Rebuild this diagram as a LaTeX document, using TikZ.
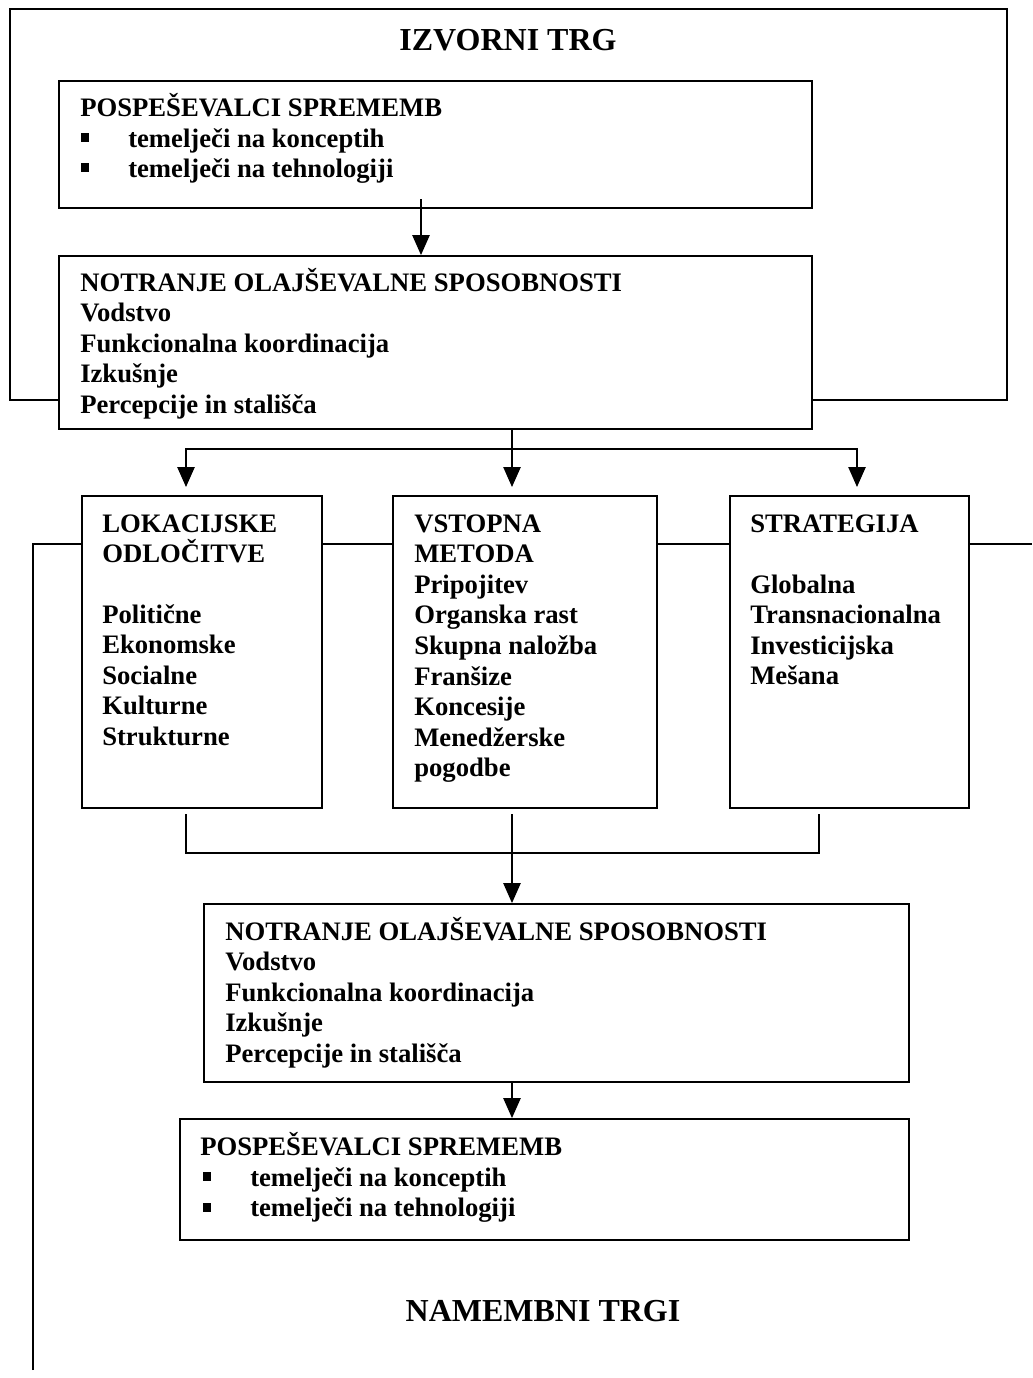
\documentclass[tikz,border=0pt]{standalone}
\usepackage{fontspec}
\setmainfont{Liberation Serif}
\usetikzlibrary{arrows.meta,fit}

% a column of text lines: name prefix, x, first baseline, lines
\newcommand\txtcol[4]{%
  \foreach \t [count=\i from 0] in {#4}
    \node[txt] (#1\i) at (#2, #3+30.6*\i) {\t};}
% a small square bullet in front of a line with the given baseline
\newcommand\sqbullet[2]{\fill (#1-4, #2-14) rectangle (#1+4, #2-5);}

\begin{document}
\begin{tikzpicture}[x=0.75pt, y=-0.75pt,
  box/.style={draw, line width=1.4pt, fill=white, inner sep=0pt},
  conn/.style={line width=1.1pt},
  arr/.style={conn, -{Triangle[width=13pt,length=15pt]}},
  txt/.style={inner sep=0pt, anchor=base west, font=\bfseries\fontsize{20}{24}\selectfont},
  head/.style={inner sep=0pt, anchor=base, font=\bfseries\fontsize{24}{28}\selectfont}]

\useasboundingbox (0,0) rectangle (1032,1378);

% outer frame of the source market
\path (10,9) coordinate (onw) (1007,400) coordinate (ose);
\node[box, fill=none, fit=(onw)(ose)] (outer) {};
\node[head] (t1) at (508,50) {IZVORNI TRG};

% boxes
\path (59,81) coordinate (b1nw) (812,208) coordinate (b1se);
\node[box, fit=(b1nw)(b1se)] (b1) {};
\path (59,256) coordinate (b2nw) (812,429) coordinate (b2se);
\node[box, fit=(b2nw)(b2se)] (b2) {};
\path (82,496) coordinate (Lnw) (322,808) coordinate (Lse);
\node[box, fit=(Lnw)(Lse)] (L) {};
\path (393,496) coordinate (Mnw) (657,808) coordinate (Mse);
\node[box, fit=(Mnw)(Mse)] (M) {};
\path (730,496) coordinate (Rnw) (969,808) coordinate (Rse);
\node[box, fit=(Rnw)(Rse)] (R) {};
\path (204,904) coordinate (b4nw) (909,1082) coordinate (b4se);
\node[box, fit=(b4nw)(b4se)] (b4) {};
\path (180,1119) coordinate (b5nw) (909,1240) coordinate (b5se);
\node[box, fit=(b5nw)(b5se)] (b5) {};

% texts of the upper boxes
\node[txt] (b1t) at (80,116) {POSPEŠEVALCI SPREMEMB};
\txtcol{b1i}{128}{147}{temelječi na konceptih,temelječi na tehnologiji}
\sqbullet{85}{147}
\sqbullet{85}{177}
\txtcol{b2t}{80}{291}{NOTRANJE OLAJŠEVALNE SPOSOBNOSTI,Vodstvo,Funkcionalna koordinacija,Izkušnje,Percepcije in stališča}

% texts of the three middle boxes
\txtcol{Lh}{102}{532}{LOKACIJSKE,ODLOČITVE}
\txtcol{Li}{102}{623}{Politične,Ekonomske,Socialne,Kulturne,Strukturne}
\txtcol{Mh}{414}{532}{VSTOPNA,METODA,Pripojitev,Organska rast,Skupna naložba,Franšize,Koncesije,Menedžerske,pogodbe}
\txtcol{Rh}{750}{532}{STRATEGIJA}
\txtcol{Ri}{750}{593}{Globalna,Transnacionalna,Investicijska,Mešana}

% texts of the lower boxes
\txtcol{b4t}{225}{940}{NOTRANJE OLAJŠEVALNE SPOSOBNOSTI,Vodstvo,Funkcionalna koordinacija,Izkušnje,Percepcije in stališča}
\node[txt] (b5t) at (200,1155) {POSPEŠEVALCI SPREMEMB};
\txtcol{b5i}{250}{1186}{temelječi na konceptih,temelječi na tehnologiji}
\sqbullet{207}{1186}
\sqbullet{207}{1216.6}

\node[head] (t2) at (543,1321) {NAMEMBNI TRGI};

% connectors
\coordinate (a1) at (421,199);
\draw[arr] (a1) -- (a1 |- b2.north);

\coordinate (sp) at (512,449);
\coordinate (tL) at (186,487);
\coordinate (tM) at (512,487);
\coordinate (tR) at (857,487);
\draw[conn] (b2.south -| sp) -- (sp);
\draw[arr] (sp) -- (tM);
\draw[arr] (sp) -| (tL);
\draw[arr] (sp) -| (tR);

\coordinate (h0) at (33,544);
\coordinate (h1) at (1032,544);
\coordinate (v1) at (33,1370);
\draw[conn] (v1) -- (h0) -- (h0 -| L.west);
\draw[conn] (L.east |- h0) -- (M.west |- h0);
\draw[conn] (M.east |- h0) -- (R.west |- h0);
\draw[conn] (R.east |- h0) -- (h1);

\coordinate (cL) at (186,814);
\coordinate (cM) at (512,814);
\coordinate (cR) at (819,814);
\coordinate (bar) at (512,853);
\draw[conn] (cL) |- (bar) -| (cR);
\draw[arr] (cM) -- (cM |- b4.north);
\draw[arr] (b4.south -| cM) -- (b5.north -| cM);
\end{tikzpicture}
\end{document}
